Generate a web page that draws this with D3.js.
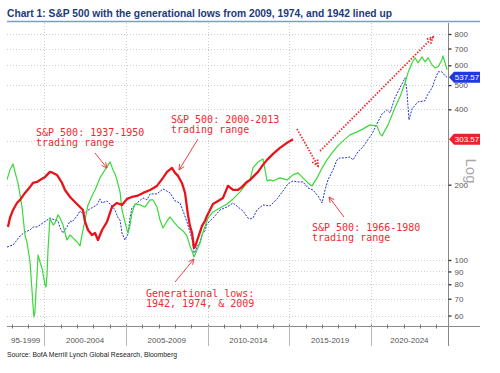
<!DOCTYPE html>
<html>
<head>
<meta charset="utf-8">
<script src="https://cdn.jsdelivr.net/npm/d3@7/dist/d3.min.js"></script>
<style>
body { margin: 0; background: #fff; }
svg { display: block; }
</style>
</head>
<body>
<script>
// canvas and positioning magic numbers
var w = 500;
var h = 373;
var plotLeft = 7, plotRight = 448, plotTop = 23, plotBottom = 326;

// ---- data (decimal year, index level) ----
// S&P 500 2000-2013 (red, solid)
var redDates = [1997.78,1997.90,1998.09,1998.33,1998.52,1998.82,1999.13,1999.31,1999.56,1999.74,
  2000.05,2000.35,2000.54,2000.78,2001.09,2001.27,2001.58,2001.88,2002.19,2002.37,
  2002.50,2002.68,2002.92,2003.11,2003.29,2003.54,2003.84,2004.15,2004.45,2004.76,
  2005.07,2005.37,2005.68,2006.05,2006.48,2006.90,2007.27,2007.52,2007.82,2008.01,
  2008.19,2008.43,2008.62,2008.80,2008.92,2009.05,2009.17,2009.23,2009.35,2009.54,
  2009.66,2009.84,2009.96,2010.15,2010.33,2010.64,2010.94,2011.25,2011.56,2011.86,
  2012.11,2012.41,2012.60,2012.78,2013.09,2013.39,2013.64,2014.01,2014.43,2014.86,2015.23];
var redValues = [135.5,147.2,158.5,169.0,173.8,185.4,195.9,203.2,205.1,208.9,
  214.8,224.9,222.8,218.8,203.2,190.5,178.6,170.6,162.9,158.5,
  141.9,131.8,125.9,128.2,120.2,131.8,141.9,162.9,169.0,166.0,
  175.4,178.6,180.3,185.4,190.5,197.7,212.8,224.9,233.3,222.8,
  216.8,203.2,185.4,151.4,136.8,128.2,111.7,112.7,119.1,129.4,
  136.8,143.2,150.0,158.5,167.5,172.2,177.0,197.7,190.5,190.5,
  195.9,205.1,208.9,214.8,224.9,239.9,251.2,265.5,280.5,293.8,303.57];

// S&P 500 1937-1950 lined up (green, solid)
var greenDates = [1997.72,1997.90,1998.09,1998.21,1998.39,1998.52,1998.64,1998.82,1998.94,1999.13,
  1999.25,1999.31,1999.37,1999.43,1999.50,1999.56,1999.62,1999.74,1999.86,2000.05,
  2000.11,2000.17,2000.23,2000.35,2000.54,2000.66,2000.84,2000.97,2001.15,2001.39,
  2001.58,2001.76,2002.01,2002.19,2002.31,2002.50,2002.68,2002.92,2003.11,2003.41,
  2003.72,2003.84,2004.03,2004.21,2004.33,2004.45,2004.64,2004.76,2004.94,2005.07,
  2005.13,2005.25,2005.37,2005.56,2005.86,2006.17,2006.48,2006.66,2006.90,2007.09,
  2007.27,2007.52,2007.70,2007.88,2008.19,2008.50,2008.74,2008.92,2009.05,2009.17,
  2009.35,2009.54,2009.72,2010.03,2010.33,2010.76,2011.19,2011.56,2011.99,2012.41,
  2012.60,2012.78,2013.09,2013.39,2013.52,2013.64,2013.82,2014.01,2014.43,2014.86,
  2015.23,2015.54,2015.84,2016.15,2016.39,2016.70,2017.01,2017.31,2017.62,2017.92,
  2018.29,2018.72,2019.15,2019.52,2019.94,2020.37,2020.56,2020.68,2021.05,2021.47,
  2021.78,2022.09,2022.27,2022.52,2022.70,2022.88,2023.13,2023.31,2023.50,2023.74,
  2023.92,2024.11,2024.35,2024.41,2024.54,2024.66];
var greenValues = [208.9,229.1,242.1,224.9,203.2,182.0,162.9,125.9,118.0,98.2,
  75.9,66.1,59.2,61.9,75.9,87.1,104.7,98.2,92.9,79.4,
  78.0,87.1,109.6,147.2,138.0,140.6,151.4,147.2,138.0,120.2,
  125.9,122.5,118.0,113.8,125.9,144.5,166.0,180.3,190.5,212.8,
  229.1,235.5,246.6,229.1,220.8,208.9,187.1,158.5,141.9,131.8,
  128.2,138.0,154.2,167.5,166.0,162.9,173.8,173.8,162.9,144.5,
  134.3,143.2,148.6,143.2,135.5,130.6,124.7,113.8,108.6,102.8,
  109.6,116.9,129.4,147.2,155.6,161.4,167.5,175.4,187.1,203.2,
  208.9,233.3,246.6,253.5,229.1,207.0,208.9,207.0,212.8,208.9,
  218.8,222.8,212.8,203.2,197.7,212.8,233.3,251.2,267.9,283.1,
  299.2,316.2,325.1,334.2,346.7,343.6,319.2,313.3,346.7,405.5,
  448.7,510.5,559.8,613.8,642.7,613.8,648.6,619.4,642.7,602.6,
  586.1,591.6,631.0,654.6,613.8,575.4];

// S&P 500 1966-1980 lined up (blue, dotted)
var blueDates = [1997.72,1997.90,1998.09,1998.33,1998.52,1998.82,1999.13,1999.31,1999.56,1999.92,
  2000.35,2000.66,2000.84,2000.97,2001.15,2001.39,2001.58,2001.70,2002.01,2002.19,
  2002.37,2002.80,2003.23,2003.41,2003.54,2003.84,2004.15,2004.33,2004.52,2004.64,
  2004.76,2004.94,2005.13,2005.25,2005.37,2005.68,2006.05,2006.29,2006.48,2006.90,
  2007.27,2007.39,2007.70,2008.01,2008.31,2008.50,2008.74,2008.92,2009.05,2009.17,
  2009.23,2009.35,2009.54,2009.66,2009.84,2009.96,2010.15,2010.45,2010.76,2011.19,
  2011.56,2011.86,2012.17,2012.47,2012.60,2012.78,2013.03,2013.39,2013.82,2014.25,
  2014.62,2014.92,2015.23,2015.54,2015.84,2016.15,2016.45,2016.76,2017.01,2017.19,
  2017.37,2017.68,2017.92,2018.11,2018.41,2018.72,2018.90,2019.21,2019.52,2019.76,
  2020.07,2020.37,2020.68,2020.99,2021.17,2021.47,2021.78,2021.97,2022.09,2022.21,
  2022.33,2022.52,2022.88,2023.31,2023.43,2023.74,2023.92,2024.11,2024.35,2024.54,2024.66];
var blueValues = [112.7,113.8,114.8,120.2,124.7,129.4,131.8,135.5,135.5,140.6,
  147.2,144.5,143.2,134.3,128.2,135.5,143.2,141.9,150.0,157.0,
  152.8,160.0,166.0,175.4,169.0,172.2,164.4,158.5,147.2,144.5,
  128.2,120.2,127.1,147.2,161.4,169.0,177.0,173.8,183.7,183.7,
  192.3,190.5,185.4,172.2,169.0,157.0,141.9,129.4,121.3,106.7,
  107.6,112.7,118.0,127.1,130.6,139.3,143.2,150.0,158.5,162.9,
  169.0,162.9,157.0,147.2,145.9,147.2,158.5,166.0,164.4,175.4,
  188.8,201.4,207.0,205.1,205.1,194.1,190.5,180.3,169.0,190.5,
  208.9,229.1,251.2,255.9,255.9,258.2,251.2,270.4,283.1,299.2,
  319.2,349.9,383.7,398.1,387.3,444.6,487.5,515.2,534.6,469.9,
  363.1,401.8,428.5,432.5,452.9,487.5,524.8,564.9,564.9,544.5,537.57];

// axis values
var gridTicks = [60, 70, 80, 90, 100, 200, 300, 400, 500, 600, 700, 800];
var labelTicks = [60, 70, 80, 90, 100, 200, 400, 500, 600, 700, 800];
var blockYears = [1995, 2000, 2005, 2010, 2015, 2020];
var blockLabels = ["95-1999", "2000-2004", "2005-2009", "2010-2014", "2015-2019", "2020-2024"];
var lastBlue = 537.57, lastRed = 303.57;

// colours
var redCol = "#e8141c", greenCol = "#3bd83b", blueCol = "#2232d8", annCol = "#ee2a2f";

var svg = d3.select("body").append("svg")
    .attr("width", w)
    .attr("height", h);

var x = d3.scaleLinear().domain([1997.72, 2024.72]).range([plotLeft, plotRight]);
var y = d3.scaleLog().domain([100, 800]).range([260, 34]);

// title
svg.append("text")
    .attr("x", 7).attr("y", 17)
    .attr("font-family", "'Liberation Sans Narrow','Liberation Sans',Arial,sans-serif")
    .attr("font-weight", "bold")
    .attr("font-size", 11.5)
    .attr("fill", "#1c3a78")
    .attr("textLength", 385)
    .attr("lengthAdjust", "spacingAndGlyphs")
    .text("Chart 1: S&P 500 with the generational lows from 2009, 1974, and 1942 lined up");

svg.append("line")
    .attr("x1", 7).attr("x2", 480).attr("y1", 21.5).attr("y2", 21.5)
    .attr("stroke", "#7d9cc8").attr("stroke-width", 1.5);

// clip for series
svg.append("clipPath").attr("id", "plotclip")
  .append("rect")
    .attr("x", plotLeft).attr("y", plotTop)
    .attr("width", plotRight - plotLeft).attr("height", plotBottom - plotTop);

// gridlines
var grid = svg.append("g");
grid.selectAll("line.hg")
    .data(gridTicks)
    .enter().append("line")
    .attr("x1", plotLeft).attr("x2", plotRight)
    .attr("y1", function(d) { return Math.round(y(d)) + 0.5; })
    .attr("y2", function(d) { return Math.round(y(d)) + 0.5; })
    .attr("stroke", "#cfcfcf").attr("stroke-dasharray", "1,2");
grid.selectAll("line.vg")
    .data(blockYears.slice(1))
    .enter().append("line")
    .attr("x1", function(d) { return Math.round(x(d)) + 0.5; })
    .attr("x2", function(d) { return Math.round(x(d)) + 0.5; })
    .attr("y1", plotTop).attr("y2", plotBottom)
    .attr("stroke", "#cfcfcf").attr("stroke-dasharray", "1,2");

// series
var line = d3.line()
    .x(function(d) { return x(d[0]); })
    .y(function(d) { return y(d[1]); });

var series = svg.append("g").attr("clip-path", "url(#plotclip)");
series.append("path")
    .datum(d3.zip(blueDates, blueValues))
    .attr("d", line)
    .attr("fill", "none").attr("stroke", blueCol)
    .attr("stroke-width", 1).attr("stroke-dasharray", "2,1.3");
series.append("path")
    .datum(d3.zip(greenDates, greenValues))
    .attr("d", line)
    .attr("fill", "none").attr("stroke", greenCol)
    .attr("stroke-width", 1.2).attr("stroke-linejoin", "round");
series.append("path")
    .datum(d3.zip(redDates, redValues))
    .attr("d", line)
    .attr("fill", "none").attr("stroke", redCol)
    .attr("stroke-width", 2.3).attr("stroke-linejoin", "round");

// bottom axis
var axisCol = "#8a8a8a";
svg.append("line")
    .attr("x1", plotLeft).attr("x2", 480).attr("y1", plotBottom + 0.5).attr("y2", plotBottom + 0.5)
    .attr("stroke", axisCol);
svg.selectAll("line.yt")
    .data(d3.range(1998, 2025))
    .enter().append("line")
    .attr("x1", function(d) { return Math.round(x(d)) + 0.5; })
    .attr("x2", function(d) { return Math.round(x(d)) + 0.5; })
    .attr("y1", plotBottom - 1.5).attr("y2", plotBottom + 2.5)
    .attr("stroke", "#777");
svg.selectAll("line.sep")
    .data(blockYears.slice(1))
    .enter().append("line")
    .attr("x1", function(d) { return Math.round(x(d)) + 0.5; })
    .attr("x2", function(d) { return Math.round(x(d)) + 0.5; })
    .attr("y1", plotBottom).attr("y2", 346)
    .attr("stroke", "#b8b8b8");
svg.selectAll("text.blk")
    .data(blockYears)
    .enter().append("text")
    .attr("x", function(d) {
        var a = Math.max(d, x.domain()[0]), b = Math.min(d + 5, x.domain()[1]);
        return x((a + b) / 2);
    })
    .attr("y", 343)
    .attr("text-anchor", "middle")
    .attr("font-family", "'Liberation Sans',Arial,sans-serif")
    .attr("font-size", 8)
    .attr("fill", "#555")
    .text(function(d, i) { return blockLabels[i]; });

// right axis
svg.append("line")
    .attr("x1", plotRight + 0.5).attr("x2", plotRight + 0.5).attr("y1", plotTop).attr("y2", 346)
    .attr("stroke", "#888");
var ra = svg.append("g")
    .attr("transform", "translate(" + (plotRight + 0.5) + ",0)")
    .call(d3.axisRight(y).tickValues(labelTicks).tickSize(3).tickFormat(d3.format("d")));
ra.select(".domain").remove();
ra.selectAll(".tick line").attr("stroke", "#333").attr("stroke-width", 1.3);
ra.selectAll(".tick text")
    .attr("x", 6)
    .attr("font-family", "'Liberation Sans',Arial,sans-serif")
    .attr("font-size", 8)
    .attr("fill", "#555");

svg.append("text")
    .attr("transform", "translate(466,171) rotate(90)")
    .attr("text-anchor", "middle")
    .attr("font-family", "'Liberation Sans',Arial,sans-serif")
    .attr("font-size", 15)
    .attr("fill", "#a8a8a8")
    .text("Log");

// last value tags
function valueTag(v, col) {
    var ty = y(v);
    svg.append("path")
        .attr("d", "M449," + ty + " L454," + (ty - 5.5) + " L480," + (ty - 5.5) +
                   " L480," + (ty + 5.5) + " L454," + (ty + 5.5) + " Z")
        .attr("fill", col);
    svg.append("text")
        .attr("x", 467).attr("y", ty + 3)
        .attr("text-anchor", "middle")
        .attr("font-family", "'Liberation Sans',Arial,sans-serif")
        .attr("font-size", 8)
        .attr("fill", "#fff")
        .text(d3.format(".2f")(v));
}
valueTag(lastBlue, "#2038e0");
valueTag(lastRed, "#e8242a");

// annotations
function annText(tx, ty, lines) {
    var t = svg.append("text")
        .attr("font-family", "'DejaVu Sans Mono',monospace")
        .attr("font-size", 10)
        .attr("fill", annCol);
    lines.forEach(function(s, i) {
        t.append("tspan").attr("x", tx).attr("y", ty + i * 10).text(s);
    });
}
function arrow(x1, y1, x2, y2, dotted) {
    var a = Math.atan2(y2 - y1, x2 - x1), L = dotted ? 7 : 6, s = 0.45;
    var g = svg.append("g")
        .attr("stroke", annCol).attr("fill", "none")
        .attr("stroke-width", dotted ? 1.8 : 0.9);
    if (dotted) g.attr("stroke-dasharray", "1.5,1.5");
    g.append("line").attr("x1", x1).attr("y1", y1).attr("x2", x2).attr("y2", y2);
    g.append("path").attr("d",
        "M" + (x2 - L * Math.cos(a - s)) + "," + (y2 - L * Math.sin(a - s)) +
        " L" + x2 + "," + y2 +
        " L" + (x2 - L * Math.cos(a + s)) + "," + (y2 - L * Math.sin(a + s)));
}

annText(36, 136, ["S&P 500: 1937-1950", "trading range"]);
arrow(95, 153, 107, 168, false);
annText(171, 123, ["S&P 500: 2000-2013", "trading range"]);
arrow(198, 139, 179, 170, false);
annText(146, 297, ["Generational lows:", "1942, 1974, & 2009"]);
arrow(175, 282, 194, 259, false);
annText(312, 231, ["S&P 500: 1966-1980", "trading range"]);
arrow(344, 217, 329, 197, false);
arrow(297, 129, 318, 166, true);
arrow(320, 151, 433, 37, true);

// source
svg.append("text")
    .attr("x", 7).attr("y", 357)
    .attr("font-family", "'Liberation Sans Narrow','Liberation Sans',Arial,sans-serif")
    .attr("font-size", 8)
    .attr("fill", "#222")
    .attr("textLength", 170)
    .attr("lengthAdjust", "spacingAndGlyphs")
    .text("Source: BofA Merrill Lynch Global Research, Bloomberg");
</script>
</body>
</html>
